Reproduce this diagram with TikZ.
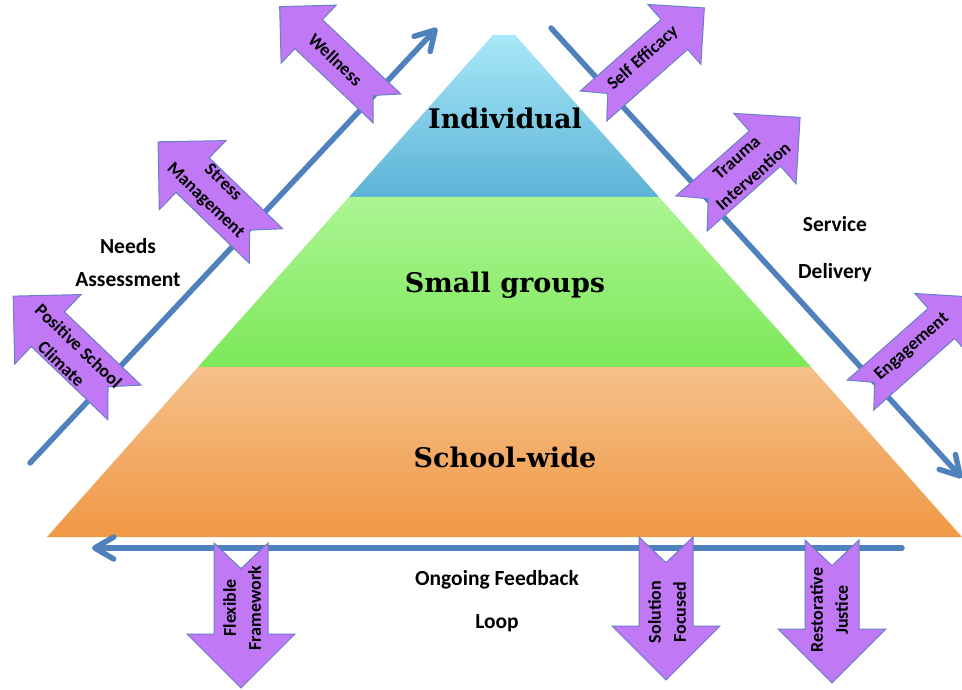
\documentclass[tikz,border=0pt]{standalone}
\usepackage{fontspec}
\newfontfamily\labfont{Carlito}
\newfontfamily\tierfont{DejaVu Serif}
\usetikzlibrary{arrows.meta}
\definecolor{lineblue}{RGB}{79,129,189}
\definecolor{purp}{RGB}{193,120,245}
\definecolor{purpedge}{RGB}{105,128,200}
\definecolor{cyantop}{RGB}{168,232,248}
\definecolor{cyanbot}{RGB}{92,178,215}
\definecolor{greentop}{RGB}{172,245,148}
\definecolor{greenbot}{RGB}{124,232,88}
\definecolor{orangetop}{RGB}{245,192,138}
\definecolor{orangebot}{RGB}{240,152,68}
\tikzset{
  bline/.style={draw=lineblue, line width=5.5pt, line cap=round,
     -{Straight Barb[length=19pt,width=22pt,round]}},
  barrow/.style={fill=purp, draw=purpedge, line width=1pt, line join=miter},
  tierlabel/.style={font=\tierfont\bfseries\fontsize{27}{32}\selectfont, inner sep=0pt, anchor=base},
  sidelabel/.style={font=\labfont\bfseries\fontsize{21.5}{26}\selectfont, inner sep=0pt, anchor=base},
  arrlabel/.style={font=\labfont\bfseries\fontsize{18}{25}\selectfont, inner sep=0pt, align=center},
}
% #1,#2 tail centre (px), #3 angle, #4 length, #5 half body width
\newcommand\blockarr[5]{%
  \begin{scope}[shift={(#1,#2)},rotate=#3]
    \path[barrow] (0pt,#5pt) -- ({(#4-2*#5)*1pt},#5pt) -- ({(#4-2*#5)*1pt},{2*#5*1pt})
      -- (#4pt,0pt) -- ({(#4-2*#5)*1pt},{-2*#5*1pt}) -- ({(#4-2*#5)*1pt},-#5pt)
      -- (0pt,-#5pt) -- ({0.95*#5*1pt},0pt) -- cycle;
  \end{scope}}
\begin{document}
\begin{tikzpicture}[x=1pt,y=-1pt]
\useasboundingbox (0,0) rectangle (962,690);
\clip (0,0) rectangle (962,690);
\fill[white] (0,0) rectangle (962,690);
% pyramid
\coordinate (t1) at (493,35);  \coordinate (t2) at (515,35);
\coordinate (m1) at (349,197); \coordinate (m2) at (659,197);
\coordinate (b1) at (198,367); \coordinate (b2) at (811,367);
\coordinate (g1) at (47,537);  \coordinate (g2) at (962,537);
\shade[top color=cyantop, bottom color=cyanbot] (t1) -- (t2) -- (m2) -- (m1) -- cycle;
\shade[top color=greentop, bottom color=greenbot] (m1) -- (m2) -- (b2) -- (b1) -- cycle;
\shade[top color=orangetop, bottom color=orangebot] (b1) -- (b2) -- (g2) -- (g1) -- cycle;
\node[tierlabel] (ind) at (505,129) {Individual};
\node[tierlabel] (sg) at (505,292) {Small groups};
\node[tierlabel] (sw) at (505,467) {School-wide};
% blue lines
\coordinate (la) at (30,463);  \coordinate (lb) at (437,28);
\coordinate (ra) at (551,28);  \coordinate (rb) at (962,478);
\coordinate (ba) at (902,548); \coordinate (bb) at (92,548);
\draw[bline] (la) -- (lb);
\draw[bline] (ra) -- (rb);
\draw[bline] (ba) -- (bb);
% purple block arrows, left
\blockarr{387}{108.5}{136.5}{148}{20}
\node[arrlabel, rotate=-43.5] (wel) at (335.5,59.5) {Wellness};
\blockarr{266}{246}{136}{150}{24}
\node[arrlabel, rotate=-44] (stm) at (214,192) {Stress\\Management};
\blockarr{124.5}{402.5}{136.3}{154}{24}
\node[arrlabel, rotate=-43.7] (psc) at (70,355) {Positive School\\Climate};
% right
\blockarr{593.5}{106}{41.5}{148}{20}
\node[arrlabel, rotate=41.5] (sef) at (643,58) {Self Efficacy};
\blockarr{691.5}{213.5}{41.5}{145}{23.5}
\node[arrlabel, rotate=41.5] (tri) at (745,167) {Trauma\\Intervention};
\blockarr{860.5}{395}{41.5}{148}{20}
\node[arrlabel, rotate=41.5] (eng) at (912,347) {Engagement};
% bottom
\blockarr{241}{543}{-90}{145}{27}
\node[arrlabel, rotate=90] (ffw) at (242,608) {Flexible\\Framework};
\blockarr{666}{537}{-90}{143}{27}
\node[arrlabel, rotate=90] (sfo) at (667,612) {Solution\\Focused};
\blockarr{832}{540}{-90}{143}{27}
\node[arrlabel, rotate=90] (rju) at (829,610) {Restorative\\Justice};
% side labels
\node[sidelabel] (needs) at (128,254) {Needs};
\node[sidelabel] (assess) at (128,286) {Assessment};
\node[sidelabel] (serv) at (835,232) {Service};
\node[sidelabel] (deliv) at (835,278) {Delivery};
\node[sidelabel] (ongo) at (497,585) {Ongoing Feedback};
\node[sidelabel] (loop) at (497,628) {Loop};
\end{tikzpicture}
\end{document}
